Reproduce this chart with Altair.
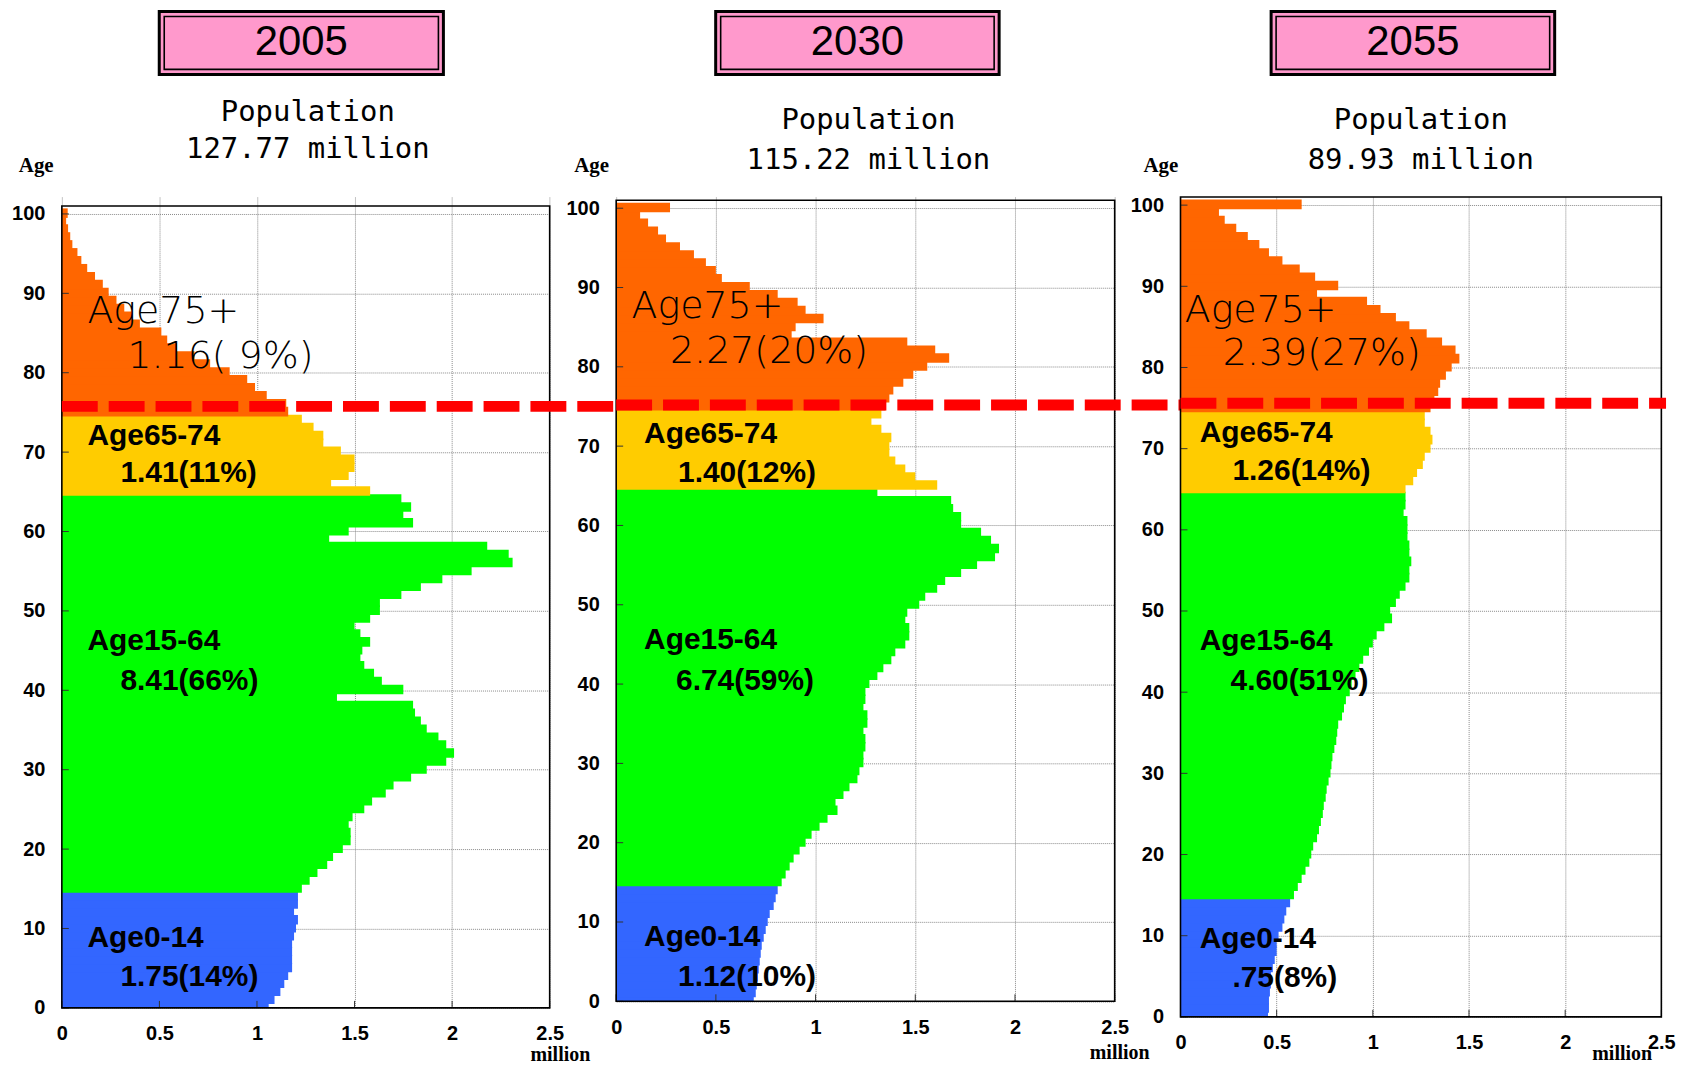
import altair as alt
import pandas as pd

# ---------------- data (million persons, by single year of age 0..100) ----------------
AGES = list(range(0, 101))

POP_2005 = [1.06, 1.09, 1.12, 1.14, 1.16, 1.18, 1.18, 1.18, 1.18, 1.19,
            1.20, 1.21, 1.19, 1.21, 1.21, 1.23, 1.27, 1.31, 1.36, 1.39,
            1.44, 1.48, 1.48, 1.47, 1.49, 1.55, 1.59, 1.66, 1.70, 1.79,
            1.87, 1.97, 2.01, 1.97, 1.93, 1.87, 1.84, 1.81, 1.80, 1.41,
            1.75, 1.64, 1.60, 1.55, 1.53, 1.54, 1.58, 1.53, 1.50, 1.58,
            1.63, 1.63, 1.74, 1.84, 1.95, 2.10, 2.31, 2.29, 2.18, 1.37,
            1.47, 1.80, 1.75, 1.79, 1.74, 1.58, 1.38, 1.47, 1.50, 1.50,
            1.43, 1.34, 1.34, 1.29, 1.23, 1.16, 1.15, 1.05, 0.99, 0.95,
            0.86, 0.76, 0.68, 0.59, 0.54, 0.51, 0.40, 0.36, 0.32, 0.28,
            0.24, 0.21, 0.17, 0.13, 0.10, 0.08, 0.054, 0.043, 0.032, 0.022,
            0.03]

POP_2030 = [0.69, 0.70, 0.705, 0.71, 0.715, 0.72, 0.725, 0.73, 0.74, 0.75,
            0.76, 0.77, 0.79, 0.80, 0.81, 0.83, 0.85, 0.87, 0.89, 0.92,
            0.95, 0.98, 1.02, 1.06, 1.11, 1.10, 1.14, 1.17, 1.21, 1.22,
            1.24, 1.24, 1.25, 1.25, 1.24, 1.26, 1.26, 1.24, 1.25, 1.25,
            1.27, 1.31, 1.34, 1.38, 1.40, 1.45, 1.47, 1.47, 1.45, 1.46,
            1.52, 1.55, 1.61, 1.65, 1.73, 1.81, 1.90, 1.92, 1.88, 1.83,
            1.73, 1.73, 1.69, 1.68, 1.31, 1.61, 1.50, 1.45, 1.40, 1.37,
            1.37, 1.38, 1.33, 1.28, 1.33, 1.35, 1.37, 1.39, 1.44, 1.49,
            1.56, 1.67, 1.60, 1.46, 0.88, 0.90, 1.04, 0.95, 0.91, 0.81,
            0.67, 0.53, 0.50, 0.45, 0.39, 0.32, 0.25, 0.21, 0.16, 0.12,
            0.27]

POP_2055 = [0.455, 0.46, 0.46, 0.465, 0.47, 0.47, 0.48, 0.49, 0.50, 0.50,
            0.51, 0.53, 0.54, 0.55, 0.57, 0.59, 0.61, 0.63, 0.65, 0.67,
            0.68, 0.69, 0.71, 0.72, 0.73, 0.74, 0.745, 0.755, 0.76, 0.77,
            0.78, 0.785, 0.79, 0.80, 0.81, 0.815, 0.82, 0.84, 0.85, 0.86,
            0.88, 0.89, 0.91, 0.93, 0.95, 0.98, 1.00, 1.02, 1.06, 1.10,
            1.09, 1.12, 1.14, 1.17, 1.19, 1.19, 1.20, 1.19, 1.19, 1.18,
            1.18, 1.18, 1.16, 1.17, 1.17, 1.17, 1.21, 1.23, 1.26, 1.27,
            1.30, 1.31, 1.30, 1.27, 1.27, 1.30, 1.32, 1.34, 1.35, 1.38,
            1.41, 1.45, 1.43, 1.36, 1.28, 1.19, 1.12, 1.04, 0.97, 0.71,
            0.82, 0.70, 0.62, 0.53, 0.46, 0.41, 0.35, 0.29, 0.23, 0.20,
            0.63]

YEARS = ["2005", "2030", "2055"]
POPS = [POP_2005, POP_2030, POP_2055]
TOTALS = ["127.77 million", "115.22 million", "89.93 million"]

GROUP_NAMES = ["Age0-14", "Age15-64", "Age65-74", "Age75+"]
GROUP_COLORS = ["#3366FF", "#00FF00", "#FFCC00", "#FF6600"]
GROUP_VALUES = {
    "2005": ["1.75(14%)", "8.41(66%)", "1.41(11%)", "1.16( 9%)"],
    "2030": ["1.12(10%)", "6.74(59%)", "1.40(12%)", "2.27(20%)"],
    "2055": [".75(8%)", "4.60(51%)", "1.26(14%)", "2.39(27%)"],
}

X_TICKS = [0, 0.5, 1, 1.5, 2, 2.5]
Y_TICKS = list(range(0, 101, 10))
X_MAX = 2.5
AGE_TOP = 101

# ---------------- layout (pixels / data positions of annotations) ----------------
GAP = 66
LAYOUT = {
    "2005": dict(w=489.3, h=813.3, ytop=102.13, line=75.76, line_end=489.3 + GAP,
                 box=(97.7, 382.7), pop_x=246.7, pop_y=(-85, -48), age_x=-25.7,
                 mil=(500, 861),
                 lab=[(0.131, 8.8, 0.30, 3.9), (0.131, 46.25, 0.30, 41.2),
                      (0.131, 72.0, 0.30, 67.4), (0.131, 87.7, 0.336, 82.0)]),
    "2030": dict(w=500.0, h=806.7, ytop=101.41, line=75.2, line_end=500 + GAP,
                 box=(99.8, 384.1), pop_x=253, pop_y=(-77, -37), age_x=-24.7,
                 mil=(505, 859),
                 lab=[(0.14, 8.1, 0.31, 3.1), (0.14, 45.5, 0.30, 40.4),
                      (0.14, 71.5, 0.31, 66.6), (0.077, 87.6, 0.27, 81.9)]),
    "2055": dict(w=482.3, h=822.3, ytop=101.0, line=75.6, line_end=487,
                 box=(90.9, 375.3), pop_x=241, pop_y=(-77, -37), age_x=-19.7,
                 mil=(443, 860),
                 lab=[(0.10, 9.6, 0.27, 4.8), (0.10, 46.3, 0.26, 41.4),
                      (0.10, 71.9, 0.27, 67.2), (0.022, 86.9, 0.22, 81.6)]),
}

AXIS_FONT = "Liberation Sans"
BOLD = "'Liberation Sans', sans-serif"
MONO = "'DejaVu Sans Mono', 'Liberation Mono', monospace"
SERIF = "'Liberation Serif', serif"
THIN = "'DejaVu Sans', sans-serif"

ONE = pd.DataFrame({"k": [0]})


def group_of(a):
    if a <= 14:
        return GROUP_NAMES[0]
    if a <= 64:
        return GROUP_NAMES[1]
    if a <= 74:
        return GROUP_NAMES[2]
    return GROUP_NAMES[3]


def panel(i):
    yr = YEARS[i]
    L = LAYOUT[yr]
    W, H = L["w"], L["h"]
    df = pd.DataFrame({"age": AGES, "pop": POPS[i]})
    df["group"] = [group_of(a) for a in AGES]

    xs = alt.Scale(domain=[0, X_MAX], nice=False, zero=False)
    ys = alt.Scale(domain=[0, L["ytop"]], nice=False, zero=False)

    xaxis = alt.Axis(values=X_TICKS, format="~g", title=None, grid=True,
                     gridColor="#8a8a8a", gridDash=[1, 1], gridWidth=1,
                     domain=False, ticks=False, tickSize=0,
                     labelFont=AXIS_FONT, labelFontSize=20, labelFontWeight="bold",
                     labelColor="black", labelPadding=16, labelFlush=False,
                     labelOverlap=False)
    yaxis = alt.Axis(values=Y_TICKS, format="d", title=None, grid=True,
                     gridColor="#8a8a8a", gridDash=[1, 1], gridWidth=1,
                     domain=False, ticks=False, tickSize=0,
                     labelFont=AXIS_FONT, labelFontSize=20, labelFontWeight="bold",
                     labelColor="black", labelPadding=17, labelFlush=False,
                     labelOverlap=False)

    def X(field):
        return alt.X(field, scale=xs, axis=xaxis)

    def Y(field):
        return alt.Y(field, scale=ys, axis=yaxis)

    bars = alt.Chart(df).transform_calculate(
        lo="max(datum.age - 0.5, 0)", hi="datum.age + 0.7"
    ).mark_rect().encode(
        x=X("pop:Q"),
        x2=alt.datum(0),
        y=Y("lo:Q"),
        y2="hi:Q",
        color=alt.Color("group:N", scale=alt.Scale(domain=GROUP_NAMES, range=GROUP_COLORS),
                        legend=None),
    )

    frame_df = pd.DataFrame({"x0": [0], "x1": [X_MAX], "y0": [0], "y1": [AGE_TOP]})
    frame = alt.Chart(frame_df).mark_rect(fillOpacity=0, stroke="black", strokeWidth=1.6).encode(
        x=X("x0:Q"), x2="x1:Q", y=Y("y0:Q"), y2="y1:Q")

    yt = alt.Chart(pd.DataFrame({"t": Y_TICKS})).mark_rule(color="#333333", strokeWidth=1).encode(
        y=Y("t:Q"), x=alt.value(0), x2=alt.value(7))
    xt = alt.Chart(pd.DataFrame({"t": X_TICKS})).mark_rule(color="#333333", strokeWidth=1).encode(
        x=X("t:Q"), y=alt.value(H), y2=alt.value(H - 7))

    names = pd.DataFrame({
        "text": GROUP_NAMES[:3],
        "x": [p[0] for p in L["lab"][:3]],
        "y": [p[1] for p in L["lab"][:3]],
    })
    vals = pd.DataFrame({
        "text": GROUP_VALUES[yr][:3],
        "x": [p[2] for p in L["lab"][:3]],
        "y": [p[3] for p in L["lab"][:3]],
    })
    old = pd.DataFrame({
        "text": [GROUP_NAMES[3], GROUP_VALUES[yr][3]],
        "x": [L["lab"][3][0], L["lab"][3][2]],
        "y": [L["lab"][3][1], L["lab"][3][3]],
    })

    bold_txt = alt.Chart(pd.concat([names, vals])).mark_text(
        font=BOLD, fontSize=30, fontWeight="bold", align="left", baseline="middle",
        color="black").encode(x=X("x:Q"), y=Y("y:Q"), text="text:N")
    thin_txt = alt.Chart(old).mark_text(
        font=THIN, fontSize=38, fontWeight=200, align="left", baseline="middle",
        color="black").encode(x=X("x:Q"), y=Y("y:Q"), text="text:N")

    dash = alt.Chart(pd.DataFrame({"a": [L["line"]]})).mark_rule(
        color="#FF0000", strokeWidth=11, strokeDash=[36, 11]).encode(
        y=Y("a:Q"), x=alt.value(0), x2=alt.value(L["line_end"]))

    bx0, bx1 = L["box"]
    box = alt.Chart(ONE).mark_rect(fill="#FF99CC", stroke="black", strokeWidth=3).encode(
        x=alt.value(bx0), x2=alt.value(bx1), y=alt.value(-186), y2=alt.value(-123))
    inner = alt.Chart(ONE).mark_rect(fillOpacity=0, stroke="black", strokeWidth=1.6).encode(
        x=alt.value(bx0 + 5), x2=alt.value(bx1 - 5), y=alt.value(-181), y2=alt.value(-128))
    year = alt.Chart(ONE).mark_text(text=yr, font=BOLD, fontSize=42, align="center",
                                    baseline="middle", color="black").encode(
        x=alt.value((bx0 + bx1) / 2), y=alt.value(-155))
    pop1 = alt.Chart(ONE).mark_text(text="Population", font=MONO, fontSize=29, align="center",
                                    baseline="middle", color="black").encode(
        x=alt.value(L["pop_x"]), y=alt.value(L["pop_y"][0]))
    pop2 = alt.Chart(ONE).mark_text(text=TOTALS[i], font=MONO, fontSize=29, align="center",
                                    baseline="middle", color="black").encode(
        x=alt.value(L["pop_x"]), y=alt.value(L["pop_y"][1]))
    agel = alt.Chart(ONE).mark_text(text="Age", font=SERIF, fontSize=21, fontWeight="bold",
                                    align="center", baseline="middle", color="black").encode(
        x=alt.value(L["age_x"]), y=alt.value(-31))
    mil = alt.Chart(ONE).mark_text(text="million", font=SERIF, fontSize=20, fontWeight="bold",
                                   align="center", baseline="middle", color="black").encode(
        x=alt.value(L["mil"][0]), y=alt.value(L["mil"][1]))

    return alt.layer(bars, yt, xt, frame, bold_txt, thin_txt, dash,
                     box, inner, year, pop1, pop2, agel, mil).properties(width=W, height=H)


chart = alt.hconcat(panel(0), panel(1), panel(2), spacing=GAP, bounds="flush").properties(
    padding={"left": 3, "top": 0, "right": 2, "bottom": 2}
).configure_view(strokeWidth=0)

chart.save("out.html", embed_options={"renderer": "svg", "actions": False})
